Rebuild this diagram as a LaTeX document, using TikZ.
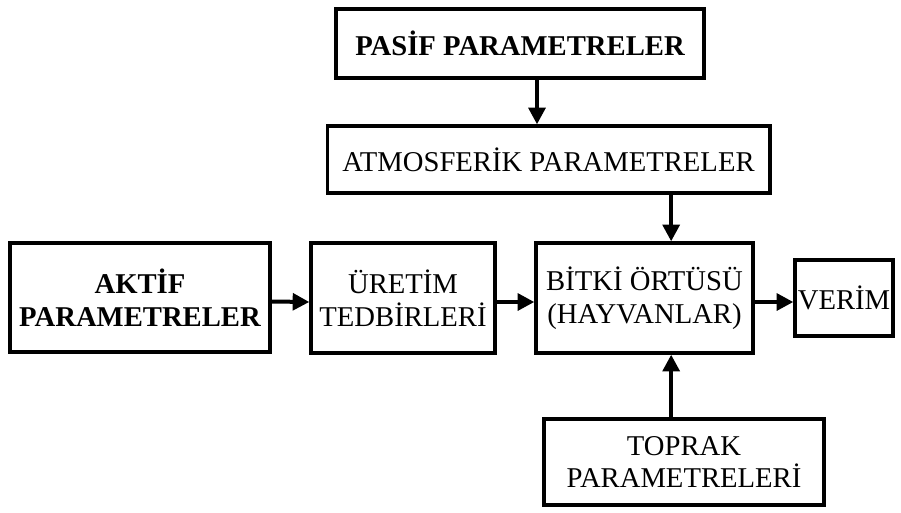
\documentclass[tikz,border=0pt]{standalone}
\usepackage{fontspec}
\setmainfont{Liberation Serif}
\usetikzlibrary{arrows.meta}

\tikzset{
    kutu/.style={draw, line width=2.5pt, align=center, inner sep=0pt,
        font=\fontsize{21.5}{24.5}\selectfont},
    kalin/.style={kutu, font=\fontsize{21.5}{24.5}\selectfont\bfseries},
    ok/.style={line width=3pt, -{Triangle[length=12.5pt,width=12.5pt]}}
}

\begin{document}
\begin{tikzpicture}[x=0.75pt,y=-0.75pt]
        \useasboundingbox (0,0) rectangle (901,512);

        % ust
        \node[kalin, minimum width=276pt, minimum height=51.75pt] (pasif) at (520,43.5) {PAS\.IF PARAMETRELER};
        \node[kutu, minimum width=332pt, minimum height=50.25pt] (atmos) at (548.5,159.5) {ATMOSFER\.IK PARAMETRELER};

        % orta
        \node[kalin, minimum width=195pt, minimum height=81.75pt] (aktif) at (140,297.5) {AKT\.IF\\PARAMETRELER};
        \node[kutu, minimum width=138pt, minimum height=82.5pt] (uretim) at (403,298) {ÜRET\.IM\\TEDB\.IRLER\.I};
        \node[kutu, minimum width=162.75pt, minimum height=82.5pt] (bitki) at (644.5,298) {B\.ITK\.I ÖRTÜSÜ\\(HAYVANLAR)};
        \node[kutu, minimum width=73.5pt, minimum height=57pt] (verim) at (844,298) {VER\.IM};

        % alt
        \node[kutu, minimum width=210pt, minimum height=64.5pt] (toprak) at (684,462) {TOPRAK\\PARAMETRELER\.I};

        % oklar
        \draw[ok] ([xshift=12.75pt]pasif.south) -- ([xshift=12.75pt]pasif.south |- atmos.north);
        \draw[ok] ([xshift=20pt]bitki.north |- atmos.south) -- ([xshift=20pt]bitki.north);
        \draw[ok] ([xshift=20pt]bitki.south |- toprak.north) -- ([xshift=20pt]bitki.south);
        \draw[ok] ([yshift=-3pt]aktif.east) -- ([yshift=-3pt]uretim.west);
        \draw[ok] ([yshift=-3pt]uretim.east) -- ([yshift=-3pt]bitki.west);
        \draw[ok] ([yshift=-3pt]bitki.east) -- ([yshift=-3pt]verim.west);
    \end{tikzpicture}
\end{document}
